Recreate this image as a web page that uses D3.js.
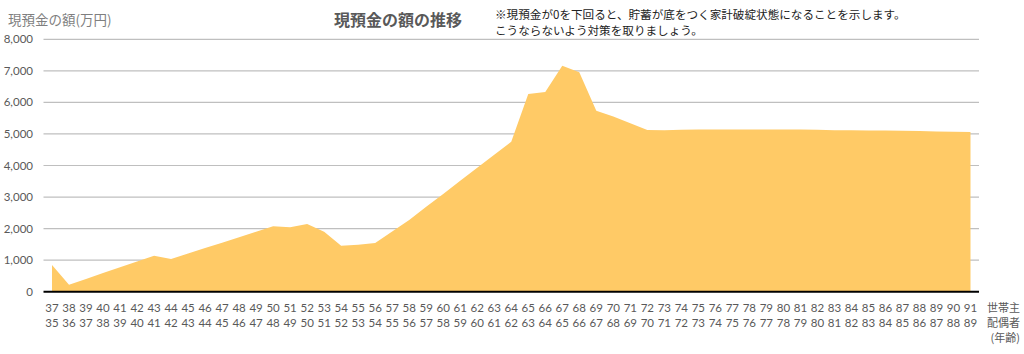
<!DOCTYPE html>
<html>
<head>
<meta charset="utf-8">
<script src="https://cdn.jsdelivr.net/npm/d3@7"></script>
<style>
  body { margin: 0; background: #fff; }
  text { font-family: "Noto Sans CJK JP", sans-serif; }
  .num { font-family: Lato, "Noto Sans", sans-serif; font-size: 11.5px; fill: #595959; }
</style>
</head>
<body>
<div id="chart"></div>
<script>
const householderAges = d3.range(37, 92);
const spouseAges = d3.range(35, 90);
const cashValues = [
  850, 222, 405, 590, 775, 960, 1140, 1036, 1210, 1385,
  1555, 1725, 1900, 2072, 2041, 2146, 1900, 1458, 1490, 1545,
  1905, 2275, 2690, 3100, 3515, 3930, 4340, 4755, 6266, 6330,
  7163, 6954, 5738, 5550, 5340, 5125, 5120, 5130, 5140, 5140,
  5140, 5140, 5140, 5140, 5140, 5135, 5120, 5115, 5110, 5110,
  5100, 5090, 5080, 5070, 5060
];
const yTicks = [0, 1000, 2000, 3000, 4000, 5000, 6000, 7000, 8000];

const width = 1024, height = 354;
const margin = { left: 43.5, right: 45, top: 39.3, bottom: 62.3 };

const svg = d3.select("#chart").append("svg")
  .attr("width", width)
  .attr("height", height);

const x = d3.scaleBand()
  .domain(householderAges)
  .range([margin.left, width - margin.right]);

const y = d3.scaleLinear()
  .domain([0, 8000])
  .range([height - margin.bottom, margin.top]);

const cx = (d) => x(d) + x.bandwidth() / 2;

// gridlines
svg.selectAll(".grid").data(yTicks.filter((d) => d > 0)).join("line")
  .attr("class", "grid")
  .attr("x1", margin.left)
  .attr("x2", width - margin.right)
  .attr("y1", (d) => y(d))
  .attr("y2", (d) => y(d))
  .attr("stroke", "#bfbfbf")
  .attr("stroke-width", 1.2);

// area
const area = d3.area()
  .x((d, i) => cx(householderAges[i]))
  .y0(y(0))
  .y1((d) => y(d));

svg.append("path")
  .datum(cashValues)
  .attr("fill", "#ffca66")
  .attr("d", area);

// x axis line
svg.append("line")
  .attr("x1", margin.left)
  .attr("x2", width - margin.right)
  .attr("y1", y(0))
  .attr("y2", y(0))
  .attr("stroke", "#000")
  .attr("stroke-width", 2);

// y tick labels
svg.selectAll(".ytick").data(yTicks).join("text")
  .attr("class", "num")
  .attr("x", 33)
  .attr("y", (d) => y(d))
  .attr("dy", "0.35em")
  .attr("text-anchor", "end")
  .text((d) => d3.format(",")(d));

// x labels (two rows)
svg.selectAll(".xl1").data(householderAges).join("text")
  .attr("class", "num")
  .attr("x", (d) => cx(d))
  .attr("y", 308)
  .attr("dy", "0.35em")
  .attr("text-anchor", "middle")
  .text((d) => d);

svg.selectAll(".xl2").data(spouseAges).join("text")
  .attr("class", "num")
  .attr("x", (d, i) => cx(householderAges[i]))
  .attr("y", 323)
  .attr("dy", "0.35em")
  .attr("text-anchor", "middle")
  .text((d) => d);

const rowLabels = ["世帯主", "配偶者", "(年齢)"];
svg.selectAll(".rl").data(rowLabels).join("text")
  .attr("x", 1020)
  .attr("y", (d, i) => 308 + i * 15)
  .attr("dy", "0.35em")
  .attr("text-anchor", "end")
  .attr("font-size", 11)
  .attr("fill", "#595959")
  .text((d) => d);

// titles
svg.append("text")
  .attr("x", 8)
  .attr("y", 25)
  .attr("font-size", 13.5)
  .attr("fill", "#7f7f7f")
  .text("現預金の額(万円)");

svg.append("text")
  .attr("x", 398)
  .attr("y", 26)
  .attr("text-anchor", "middle")
  .attr("font-size", 16)
  .attr("font-weight", "bold")
  .attr("fill", "#595959")
  .text("現預金の額の推移");

const notes = [
  "※現預金が0を下回ると、貯蓄が底をつく家計破綻状態になることを示します。",
  "こうならないよう対策を取りましょう。"
];
svg.selectAll(".note").data(notes).join("text")
  .attr("x", 495)
  .attr("y", (d, i) => 19 + i * 16)
  .attr("font-size", 11.6)
  .attr("fill", "#222")
  .text((d) => d);
</script>
</body>
</html>
